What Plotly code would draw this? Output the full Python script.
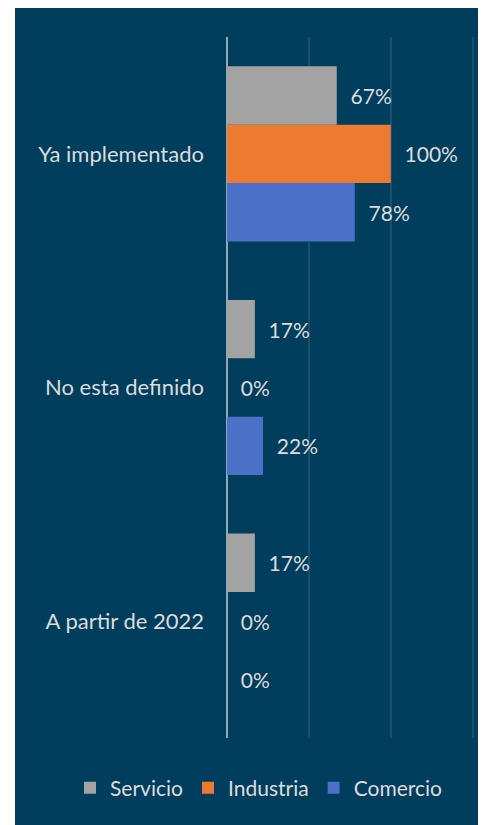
import plotly.graph_objects as go

categories = ["Ya implementado", "No esta definido", "A partir de 2022"]
servicio = [0.67, 0.17, 0.17]
industria = [1.00, 0.00, 0.00]
comercio = [0.78, 0.22, 0.00]
series_names = ["Servicio", "Industria", "Comercio"]
colors = ["#a3a3a3", "#ec7a30", "#4a70c8"]

FONT = "Lato"
TXT = "#dcdcdc"
NB = "\u00a0\u00a0"
fig = go.Figure()
for name, vals, col in zip(series_names, [servicio, industria, comercio], colors):
    fig.add_trace(go.Bar(
        y=categories, x=vals, name=name, orientation="h",
        marker=dict(color=col, line=dict(width=0)),
        text=[NB + f"{round(v*100)}%" for v in vals],
        textposition="outside", cliponaxis=False,
        textfont=dict(color=TXT, size=21, family=FONT),
    ))

# page body has an 8px margin, so the figure is placed at (8, 8)
OFF = 8
W, H = 486 - OFF, 825 - OFF
L, R, T, B = 227 - OFF, 10, 37 - OFF, 825 - 738
pw, ph = W - L - R, H - T - B

fig.add_shape(type="rect", xref="paper", yref="paper", layer="below",
              x0=(15 - 227) / pw, x1=(W - L) / pw + 0.02,
              y0=-B / ph - 0.02, y1=(H - B) / ph + 0.02,
              fillcolor="#013d5c", line=dict(width=0))

fig.update_layout(
    width=W, height=H,
    margin=dict(l=L, r=R, t=T, b=B),
    paper_bgcolor="white", plot_bgcolor="rgba(0,0,0,0)",
    barmode="group", bargap=0.25, bargroupgap=0,
    font=dict(family=FONT, color=TXT, size=21),
    xaxis=dict(range=[0, 1.52], tickvals=[0.5, 1.0, 1.5], showticklabels=False,
               showgrid=True, gridcolor="#1b4f6e", gridwidth=1.5,
               zeroline=True, zerolinecolor="#8ea8ba", zerolinewidth=2),
    yaxis=dict(autorange="reversed", showgrid=False, ticks="",
               ticklabelstandoff=22, tickfont=dict(size=22, color=TXT, family=FONT)),
    legend=dict(orientation="h", x=(70 - 227) / pw, xanchor="left",
                y=-(788 - 738) / ph, yanchor="middle",
                font=dict(size=21, color=TXT, family=FONT), itemwidth=30,
                bgcolor="rgba(0,0,0,0)", traceorder="normal"),
    showlegend=True,
)

fig.write_html("out.html")
